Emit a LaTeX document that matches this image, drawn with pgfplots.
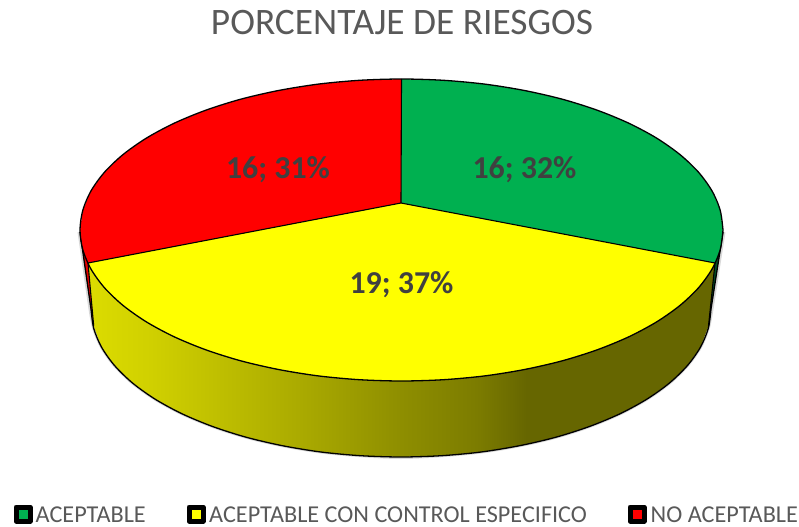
\documentclass[border=0pt]{standalone}
\usepackage{pgfplots}
\usepackage{fontspec}
\pgfplotsset{compat=1.18}
\setmainfont{Carlito}
\definecolor{txt}{HTML}{595959}
\definecolor{lab}{HTML}{404040}
\definecolor{gr}{HTML}{00B050}
\definecolor{yl}{HTML}{FFFF00}
\definecolor{rd}{HTML}{FF0000}
\definecolor{sa}{RGB}{220,220,0}
\definecolor{sb}{RGB}{208,208,0}
\definecolor{sc}{RGB}{170,170,0}
\definecolor{sd}{RGB}{142,142,0}
\definecolor{se}{RGB}{124,124,0}
\definecolor{sf}{RGB}{102,102,0}
\pgfdeclarehorizontalshading{sideshade}{100bp}{
 color(0bp)=(sa);
 color(25bp)=(sa);
 color(30bp)=(sb);
 color(42bp)=(sc);
 color(50bp)=(sd);
 color(56bp)=(se);
 color(60bp)=(sf);
 color(75bp)=(sf);
 color(100bp)=(sf)}
\begin{document}
\begin{tikzpicture}
\begin{axis}[hide axis, scale only axis, width=799bp, height=527bp,
  xmin=0, xmax=799, ymin=0, ymax=527, y dir=reverse, clip=false]
% picture frame
\addplot[draw=none] coordinates {(0,0)(799,527)};
% soft shadow
\addplot[color=gray!30, line width=3bp, smooth] coordinates {(90,309)(93.7,328.3)(101.6,347.3)(114.6,365.6)(132.5,383)(155,399.1)(181.8,413.7)(212.3,426.4)(246,437.2)(282.4,445.7)(320.8,452)(360.5,455.7)(401,457.5)(441.5,455.7)(481.2,452)(519.6,445.7)(556,437.2)(589.7,426.4)(620.2,413.7)(647,399.1)(669.5,383)(687.4,365.6)(700.4,347.3)(708.3,328.3)(712,309)};
\addplot[color=gray!30, line width=3bp] coordinates {(79,232)(90,309)};
\addplot[color=gray!30, line width=3bp] coordinates {(724,232)(712,309)};
% side walls
\addplot[fill=rd!90!black, draw=none] coordinates {(88,263)(82.8,249.7)(80,232)(91,309)(93.7,326)} --cycle;
\addplot[fill=black!55!gr, draw=none] coordinates {(715,263)(720.2,249.7)(723,232)(711,309)(708.5,326)} --cycle;
\addplot[shading=sideshade, draw=none] coordinates {(88,263)(91,269.1)(104.5,287.8)(123.1,305.5)(146.4,321.9)(174.2,336.8)(205.8,349.8)(240.7,360.8)(278.5,369.5)(318.3,375.9)(359.5,379.7)(401.5,381)(443.5,379.7)(484.7,375.9)(524.5,369.5)(562.3,360.8)(597.2,349.8)(628.8,336.8)(656.6,321.9)(679.9,305.5)(698.5,287.8)(712,269.1)(715,263)(708.5,326)(700.4,347.3)(687.4,365.6)(669.5,383)(647,399.1)(620.2,413.7)(589.7,426.4)(556,437.2)(519.6,445.7)(481.2,452)(441.5,455.7)(401,457)(360.5,455.7)(320.8,452)(282.4,445.7)(246,437.2)(212.3,426.4)(181.8,413.7)(155,399.1)(132.5,383)(114.6,365.6)(101.6,347.3)(93.7,326)} --cycle;
% side outlines
\addplot[draw=black, line width=1.3bp, smooth] coordinates {(91,309)(93.7,328.3)(101.6,347.3)(114.6,365.6)(132.5,383)(155,399.1)(181.8,413.7)(212.3,426.4)(246,437.2)(282.4,445.7)(320.8,452)(360.5,455.7)(401,457)(441.5,455.7)(481.2,452)(519.6,445.7)(556,437.2)(589.7,426.4)(620.2,413.7)(647,399.1)(669.5,383)(687.4,365.6)(700.4,347.3)(708.3,328.3)(711,309)};
\addplot[draw=black, line width=1.3bp] coordinates {(80,232)(91,309)};
\addplot[draw=black, line width=1.3bp] coordinates {(723,232)(711,309)};
\addplot[draw=black, line width=1.1bp] coordinates {(88,263)(93.7,326)};
\addplot[draw=black, line width=1.1bp] coordinates {(715,263)(708.5,326)};
% top slices
\addplot[fill=gr, draw=none] coordinates {(401,203)(401.5,79)(443.5,80.3)(484.7,84.1)(524.5,90.5)(562.3,99.2)(597.2,110.2)(628.8,123.2)(656.6,138.1)(679.9,154.5)(698.5,172.2)(712,190.9)(720.2,210.3)(723,230)(720.2,249.7)(715,263)} --cycle;
\addplot[fill=yl, draw=none] coordinates {(401,203)(715,263)(712,269.1)(698.5,287.8)(679.9,305.5)(656.6,321.9)(628.8,336.8)(597.2,349.8)(562.3,360.8)(524.5,369.5)(484.7,375.9)(443.5,379.7)(401.5,381)(359.5,379.7)(318.3,375.9)(278.5,369.5)(240.7,360.8)(205.8,349.8)(174.2,336.8)(146.4,321.9)(123.1,305.5)(104.5,287.8)(91,269.1)(88,263)} --cycle;
\addplot[fill=rd, draw=none] coordinates {(401,203)(88,263)(82.8,249.7)(80,230)(82.8,210.3)(91,190.9)(104.5,172.2)(123.1,154.5)(146.4,138.1)(174.2,123.2)(205.8,110.2)(240.7,99.2)(278.5,90.5)(318.3,84.1)(359.5,80.3)(401.5,79)} --cycle;
% top outlines
\addplot[draw=black, line width=1.3bp, smooth] coordinates {(723,230)(720.2,210.3)(712,190.9)(698.5,172.2)(679.9,154.5)(656.6,138.1)(628.8,123.2)(597.2,110.2)(562.3,99.2)(524.5,90.5)(484.7,84.1)(443.5,80.3)(401.5,79)(359.5,80.3)(318.3,84.1)(278.5,90.5)(240.7,99.2)(205.8,110.2)(174.2,123.2)(146.4,138.1)(123.1,154.5)(104.5,172.2)(91,190.9)(82.8,210.3)(80,230)(82.8,249.7)(91,269.1)(104.5,287.8)(123.1,305.5)(146.4,321.9)(174.2,336.8)(205.8,349.8)(240.7,360.8)(278.5,369.5)(318.3,375.9)(359.5,379.7)(401.5,381)(443.5,379.7)(484.7,375.9)(524.5,369.5)(562.3,360.8)(597.2,349.8)(628.8,336.8)(656.6,321.9)(679.9,305.5)(698.5,287.8)(712,269.1)(720.2,249.7)(723,230)};
\addplot[draw=black, line width=1.1bp] coordinates {(401.5,79)(401,203)};
\addplot[draw=black, line width=1.1bp] coordinates {(88,263)(401,203)(715,263)};
% legend markers
\addplot[only marks, mark=square*, mark size=7bp, mark options={draw=black, fill=gr, line width=5bp, line join=round}] coordinates {(23,514)};
\addplot[only marks, mark=square*, mark size=7bp, mark options={draw=black, fill=yl, line width=5bp, line join=round}] coordinates {(196,514)};
\addplot[only marks, mark=square*, mark size=7bp, mark options={draw=black, fill=rd, line width=5bp, line join=round}] coordinates {(637,514)};
% texts
\node[text=txt, font=\fontsize{37.5}{37.5}\selectfont, inner sep=0pt] at (axis cs:402,23) {PORCENTAJE DE RIESGOS};
\node[text=lab, font=\fontsize{32}{32}\selectfont\bfseries, inner sep=0pt] at (axis cs:524.5,169.5) {16; 32\%};
\node[text=lab, font=\fontsize{32}{32}\selectfont\bfseries, inner sep=0pt] at (axis cs:401.5,285) {19; 37\%};
\node[text=lab, font=\fontsize{32}{32}\selectfont\bfseries, inner sep=0pt] at (axis cs:278,169.5) {16; 31\%};
\node[text=txt, font=\fontsize{24.3}{24.3}\selectfont, inner sep=0pt, anchor=west] at (axis cs:35.5,514.5) {ACEPTABLE};
\node[text=txt, font=\fontsize{24.3}{24.3}\selectfont, inner sep=0pt, anchor=west] at (axis cs:209,514.5) {ACEPTABLE CON CONTROL ESPECIFICO};
\node[text=txt, font=\fontsize{24.3}{24.3}\selectfont, inner sep=0pt, anchor=west] at (axis cs:650.5,514.5) {NO ACEPTABLE};
\end{axis}
\end{tikzpicture}
\end{document}
